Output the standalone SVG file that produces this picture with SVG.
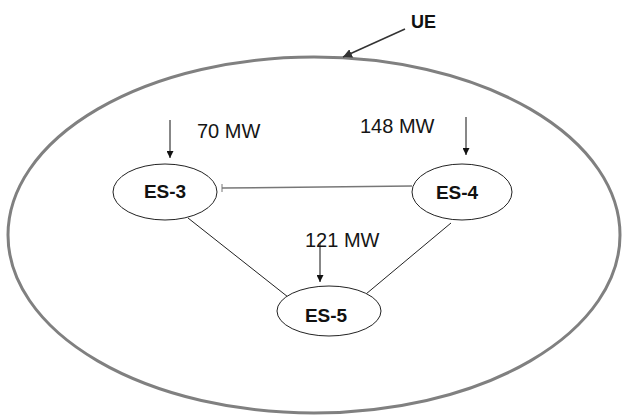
<svg xmlns="http://www.w3.org/2000/svg" width="625" height="415" viewBox="0 0 625 415">
  <style>
    .node ellipse { fill: #ffffff; stroke: #222222; stroke-width: 1; }
    .node text { font-family: "Liberation Sans", Arial, sans-serif; font-weight: bold; font-size: 19px; fill: #111111; text-anchor: middle; }
    .load { font-family: "Liberation Sans", Arial, sans-serif; font-size: 20px; fill: #151515; }
    .feed { stroke: #111111; stroke-width: 1; fill: none; marker-end: url(#head); }
    .link { stroke: #222222; stroke-width: 1; fill: none; }
  </style>
  <defs>
    <marker id="head" viewBox="0 0 10 10" refX="10" refY="5" markerWidth="7" markerHeight="7" markerUnits="userSpaceOnUse" orient="auto">
      <path d="M0,0 L10,5 L0,10 Z" fill="#111111"/>
    </marker>
    <marker id="headUE" viewBox="0 0 10 10" refX="10" refY="5" markerWidth="9" markerHeight="9" markerUnits="userSpaceOnUse" orient="auto">
      <path d="M0,0 L10,5 L0,10 Z" fill="#333333"/>
    </marker>
  </defs>

  <!-- outer region -->
  <g id="region">
    <ellipse cx="314" cy="235" rx="306" ry="178" fill="none" stroke="#808080" stroke-width="3"/>
  </g>

  <!-- region label -->
  <g id="ue-label">
    <text x="411" y="28" font-family="Liberation Sans, Arial, sans-serif" font-weight="bold" font-size="18" fill="#111111">UE</text>
    <line x1="405" y1="29" x2="343" y2="57" stroke="#333333" stroke-width="1.5" marker-end="url(#headUE)"/>
  </g>

  <!-- connectors -->
  <g id="connectors">
    <line x1="222" y1="188" x2="412" y2="186" stroke="#777777" stroke-width="1.5"/>
    <line x1="222" y1="184" x2="222" y2="192" stroke="#777777" stroke-width="1"/>
    <line class="link" x1="188" y1="218" x2="288" y2="297"/>
    <line class="link" x1="451" y1="223" x2="366" y2="294"/>
    <line class="feed" x1="170" y1="120" x2="170" y2="158"/>
    <line class="feed" x1="466" y1="117" x2="466" y2="155"/>
    <line class="feed" x1="320" y1="243" x2="320" y2="282"/>
  </g>

  <!-- load labels -->
  <g id="loads">
    <text class="load" x="197" y="138">70 MW</text>
    <text class="load" x="360" y="133">148 MW</text>
    <text class="load" x="305" y="247">121 MW</text>
  </g>

  <g id="es3" class="node">
    <ellipse cx="165" cy="192" rx="52" ry="28"/>
    <text x="165" y="198">ES-3</text>
  </g>
  <g id="es4" class="node">
    <ellipse cx="462" cy="192" rx="50" ry="28"/>
    <text x="457" y="199">ES-4</text>
  </g>
  <g id="es5" class="node">
    <ellipse cx="329" cy="311" rx="52" ry="25"/>
    <text x="326" y="322">ES-5</text>
  </g>
</svg>
